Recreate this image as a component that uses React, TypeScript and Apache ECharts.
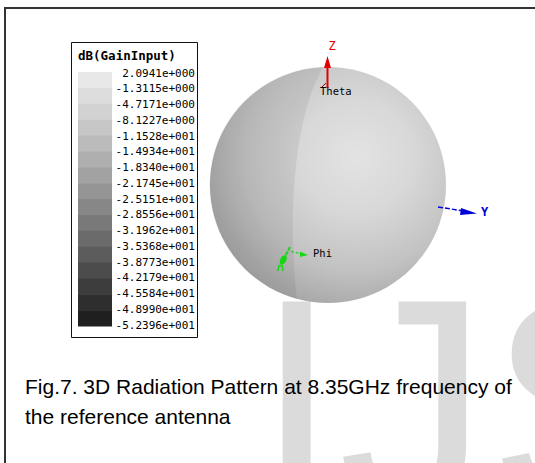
import React, { useEffect, useRef } from "react";
import * as echarts from "echarts";

// Legend: dB(GainInput) contour levels (top = max)
const legendTitle = "dB(GainInput)";
const legendLabels = [
  "2.0941e+000",
  "-1.3115e+000",
  "-4.7171e+000",
  "-8.1227e+000",
  "-1.1528e+001",
  "-1.4934e+001",
  "-1.8340e+001",
  "-2.1745e+001",
  "-2.5151e+001",
  "-2.8556e+001",
  "-3.1962e+001",
  "-3.5368e+001",
  "-3.8773e+001",
  "-4.2179e+001",
  "-4.5584e+001",
  "-4.8990e+001",
  "-5.2396e+001",
];
const bandShades = [
  "#e7e7e7", "#dddddd", "#d2d2d2", "#c7c7c7",
  "#bbbbbb", "#afafaf", "#a2a2a2", "#959595",
  "#878787", "#797979", "#6b6b6b", "#5c5c5c",
  "#4c4c4c", "#3d3d3d", "#2e2e2e", "#1f1f1f",
];
const axisNames = { z: "Z", y: "Y", theta: "Theta", phi: "Phi" };
const captionLines = [
  "Fig.7. 3D Radiation Pattern at 8.35GHz frequency of",
  "the reference antenna",
];
const watermark = "IJSER";

echarts.graphic.registerShape(
  "seam",
  echarts.graphic.extendPath(
    "M323 67 A118 118 0 0 0 297 299 C289 235 290 125 323 67 Z",
    {}
  )
);

export default function App() {
  const ref = useRef<HTMLDivElement>(null);
  useEffect(() => {
    if (!ref.current) return;
    const chart = echarts.init(ref.current, null, { renderer: "svg" });
    const mono = "DejaVu Sans Mono";
    const elements: any[] = [];

    // frame
    elements.push({ type: "line", shape: { x1: 4, y1: 8, x2: 535, y2: 8 }, style: { stroke: "#333", lineWidth: 2 } });
    elements.push({ type: "line", shape: { x1: 5, y1: 8, x2: 5, y2: 463 }, style: { stroke: "#333", lineWidth: 2 } });

    // sphere
    elements.push({
      type: "circle",
      shape: { cx: 328, cy: 185, r: 118 },
      style: {
        fill: {
          type: "radial", x: 0.62, y: 0.38, r: 0.8,
          colorStops: [
            { offset: 0, color: "#e3e3e3" },
            { offset: 0.3, color: "#d8d8d8" },
            { offset: 0.6, color: "#c2c2c2" },
            { offset: 0.85, color: "#a4a4a4" },
            { offset: 1, color: "#8a8a8a" },
          ],
        },
      },
      z: 1,
    });
    elements.push({ type: "seam", x: 0, y: 0, style: { fill: "rgba(0,0,0,0.06)" }, z: 2 });

    // legend box
    const lx = 71, ly = 42, lw = 126, lh = 295;
    elements.push({ type: "rect", shape: { x: lx + 0.5, y: ly + 0.5, width: lw, height: lh }, style: { fill: "#fff", stroke: "#111", lineWidth: 1 }, z: 3 });
    elements.push({ type: "text", x: 78, y: 55, style: { text: legendTitle, font: `bold 12.5px ${mono}`, fill: "#000", align: "left", verticalAlign: "middle" }, z: 4 });
    const bandTop = 72, bandH = 254 / bandShades.length;
    bandShades.forEach((c, i) => {
      elements.push({ type: "rect", shape: { x: 78, y: bandTop + i * bandH, width: 34, height: bandH + 0.5 }, style: { fill: c }, z: 4 });
    });
    const labTop = 73, labStep = (325 - 73) / (legendLabels.length - 1);
    legendLabels.forEach((t, i) => {
      elements.push({ type: "text", x: 195, y: labTop + i * labStep, style: { text: t, font: `11px ${mono}`, fill: "#000", align: "right", verticalAlign: "middle" }, z: 4 });
    });

    // Z axis (red)
    const red = "#e00000";
    elements.push({ type: "line", shape: { x1: 327.5, y1: 88, x2: 327.5, y2: 64 }, style: { stroke: red, lineWidth: 2 }, z: 5 });
    elements.push({ type: "polygon", shape: { points: [[324, 68], [331, 68], [327.5, 56]] }, style: { fill: red }, z: 5 });
    elements.push({ type: "line", shape: { x1: 326, y1: 83, x2: 321, y2: 88 }, style: { stroke: "#800", lineWidth: 1 }, z: 5 });
    elements.push({ type: "text", x: 332, y: 46, style: { text: axisNames.z, font: `12px ${mono}`, fill: red, align: "center", verticalAlign: "middle" }, z: 5 });
    elements.push({ type: "text", x: 320, y: 90.5, style: { text: axisNames.theta, font: `10.5px ${mono}`, fill: "#000", align: "left", verticalAlign: "middle" }, z: 5 });

    // Y axis (blue)
    const blue = "#0000d8";
    elements.push({ type: "line", shape: { x1: 438, y1: 207, x2: 464, y2: 211 }, style: { stroke: blue, lineWidth: 1.5, lineDash: [5, 2] }, z: 5 });
    elements.push({ type: "polygon", shape: { points: [[461, 208], [460, 215], [477, 213.5]] }, style: { fill: blue }, z: 5 });
    elements.push({ type: "text", x: 481, y: 212, style: { text: axisNames.y, font: `bold 12px ${mono}`, fill: blue, align: "left", verticalAlign: "middle" }, z: 5 });

    // Phi (green)
    const green = "#14d814";
    elements.push({ type: "line", shape: { x1: 291, y1: 251.5, x2: 302, y2: 254 }, style: { stroke: green, lineWidth: 1.2, lineDash: [3, 2] }, z: 5 });
    elements.push({ type: "polygon", shape: { points: [[300, 251.5], [300, 257], [308, 255]] }, style: { fill: green }, z: 5 });
    elements.push({ type: "line", shape: { x1: 290, y1: 247, x2: 280, y2: 266 }, style: { stroke: green, lineWidth: 2, lineDash: [4, 1] }, z: 5 });
    elements.push({ type: "ellipse", shape: { cx: 283, cy: 260, rx: 3, ry: 5 }, rotation: -0.5, originX: 283, originY: 260, style: { fill: green }, z: 5 });
    elements.push({ type: "line", shape: { x1: 279, y1: 265, x2: 278, y2: 271 }, style: { stroke: green, lineWidth: 1.5 }, z: 5 });
    elements.push({ type: "line", shape: { x1: 282, y1: 265, x2: 283, y2: 271 }, style: { stroke: green, lineWidth: 1.5 }, z: 5 });
    elements.push({ type: "text", x: 313, y: 253, style: { text: axisNames.phi, font: `10.5px ${mono}`, fill: "#000", align: "left", verticalAlign: "middle" }, z: 5 });

    // caption
    captionLines.forEach((t, i) => {
      elements.push({ type: "text", x: 25, y: 386.5 + i * 30, style: { text: t, font: `21px "Liberation Sans", Arial, sans-serif`, fill: "#000", align: "left", verticalAlign: "middle" }, z: 6 });
    });

    // watermark
    elements.push({ type: "text", x: 255, y: 404, style: { text: watermark, font: `300px "Liberation Sans", Arial, sans-serif`, fill: "rgba(0,0,0,0.14)", align: "left", verticalAlign: "middle" }, z: 7, silent: true });

    chart.setOption({
      animation: false,
      backgroundColor: "#fff",
      graphic: { elements },
    });
    return () => chart.dispose();
  }, []);
  return <div ref={ref} style={{ position: "fixed", left: 0, top: 0, width: 535, height: 463 }} />;
}
